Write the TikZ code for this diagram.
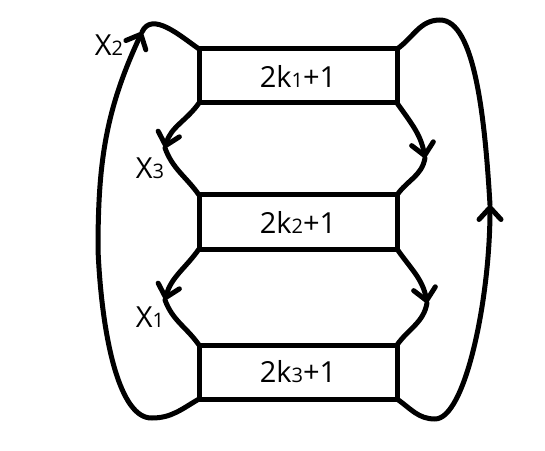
\documentclass[tikz,border=0pt]{standalone}
\usepackage{fontspec}
\setmainfont{Open Sans}
\usetikzlibrary{positioning,arrows.meta}
\newcommand{\sub}[1]{{\fontsize{10}{12}\selectfont #1}}

\begin{document}
\begin{tikzpicture}[
  x=0.5pt, y=0.5pt,
  node distance=46pt,
  box/.style={draw, line width=2.5pt, minimum width=99pt, minimum height=27pt,
              outer sep=0pt, font=\fontsize{14.5}{16}\selectfont},
  lbl/.style={font=\fontsize{14.5}{16}\selectfont},
  wire/.style={line width=2.5pt, line cap=round, line join=round},
  arr/.style={wire, -{Straight Barb[length=6pt, width=11pt, round]}}
]
\useasboundingbox (0,0) rectangle (545,450);

% ===== the three boxes =====
\node[box] (b1) at (298,374) {2k\sub{1}+1};
\node[box, below=of b1]    (b2) {2k\sub{2}+1};
\node[box, below=48pt of b2] (b3) {2k\sub{3}+1};

% ===== labels =====
\node[lbl] (x2) at (109,405) {X\sub{2}};
\node[lbl] (x3) at (150,282) {X\sub{3}};
\node[lbl] (x1) at (150,133) {X\sub{1}};

% ===== turning points =====
\coordinate (l12) at (165,302);
\coordinate (r12) at (425,292);
\coordinate (l23) at (165,150);
\coordinate (r23) at (427,147);
\coordinate (lbot) at (152,32);
\coordinate (lside) at (98,200);
\coordinate (ltip) at (142,418);
\coordinate (rbot) at (435,31);
\coordinate (rtip) at (490,245);
\coordinate (rtop) at (440,430);

% inner links
\draw[arr]  (b1.south west) to[out=235, in=75] (l12);
\draw[wire] (l12) to[out=-70, in=125] (b2.north west);
\draw[arr]  (b1.south east) to[out=-55, in=100] (r12);
\draw[wire] (r12) to[out=-100, in=55] (b2.north east);
\draw[arr]  (b2.south west) to[out=235, in=75] (l23);
\draw[wire] (l23) to[out=-70, in=125] (b3.north west);
\draw[arr]  (b2.south east) to[out=-55, in=100] (r23);
\draw[wire] (r23) to[out=-100, in=55] (b3.north east);

% outer loops
\draw[arr]  (b3.south west) to[out=210, in=0] (lbot)
            .. controls (120,31) and (102,110) .. (lside)
            to[out=90, in=-115] (ltip);
\draw[wire] (ltip) to[out=65, in=145] (b1.north west);
\draw[arr]  (b3.south east) to[out=-35, in=180] (rbot)
            .. controls (465,31) and (490,150) .. (rtip);
\draw[wire] (rtip) .. controls (485,330) and (475,430) .. (rtop)
            to[out=180, in=35] (b1.north east);

\end{tikzpicture}
\end{document}
